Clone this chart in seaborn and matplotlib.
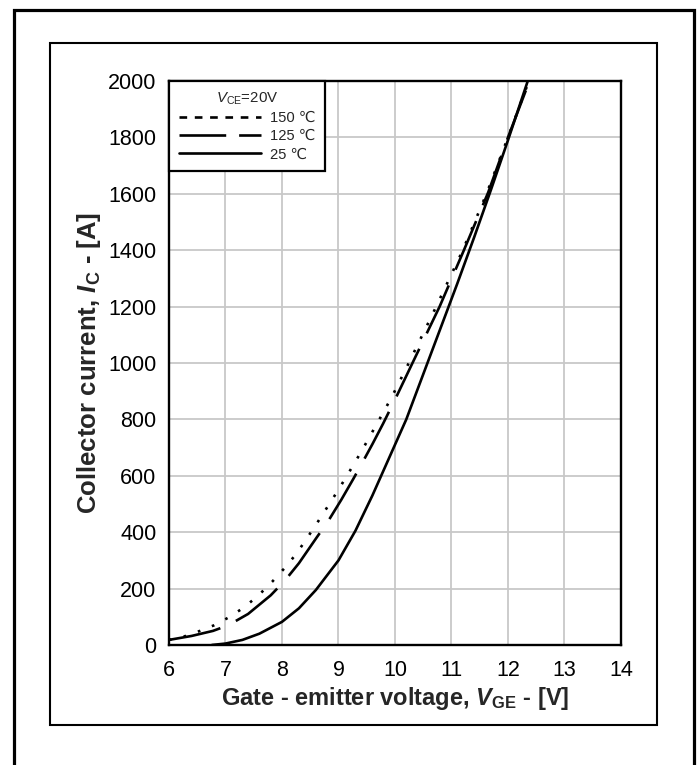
import matplotlib
matplotlib.use("Agg")
import matplotlib.pyplot as plt
from matplotlib.lines import Line2D
from matplotlib.patches import Rectangle
import seaborn as sns
import pandas as pd

# ---- data ----
v_150 = [6.0, 6.3, 6.55, 6.8, 7.06, 7.32, 7.58, 7.83, 8.07, 8.26, 8.43, 8.62, 8.79, 8.95,
         9.11, 9.26, 9.41, 9.55, 9.69, 9.83, 9.95, 10.22, 10.73, 11.2, 11.62, 12.0, 12.37]
i_150 = [18, 32, 50, 70, 98, 132, 175, 225, 278, 325, 375, 432, 485, 535,
         587, 637, 688, 738, 788, 838, 882, 990, 1200, 1400, 1600, 1800, 2000]

v_125 = [6.0, 6.4, 6.78, 7.05, 7.4, 7.8, 8.05, 8.3, 8.61, 8.82, 9.05, 9.26, 9.41, 9.6,
         9.79, 10.0, 10.31, 10.79, 11.22, 11.65, 12.0, 12.38]
i_125 = [18, 32, 50, 70, 110, 176, 228, 290, 380, 440, 515, 588, 642, 712,
         785, 870, 1000, 1200, 1400, 1605, 1800, 2000]

v_25 = [6.76, 7.0, 7.3, 7.6, 8.0, 8.3, 8.6, 9.0, 9.3, 9.6, 9.9, 10.2, 10.5,
        10.8, 11.1, 11.4, 11.7, 12.0, 12.35]
i_25 = [0, 5, 18, 40, 82, 130, 195, 300, 405, 530, 665, 800, 960,
        1120, 1280, 1445, 1615, 1790, 2000]

labels = ["150 \u2103", "125 \u2103", "25 \u2103"]
x_ticks = [6, 7, 8, 9, 10, 11, 12, 13, 14]
y_ticks = [0, 200, 400, 600, 800, 1000, 1200, 1400, 1600, 1800, 2000]

df = pd.concat([
    pd.DataFrame({"V": v_150, "I": i_150, "T": labels[0]}),
    pd.DataFrame({"V": v_125, "I": i_125, "T": labels[1]}),
    pd.DataFrame({"V": v_25, "I": i_25, "T": labels[2]}),
], ignore_index=True)

# ---- style ----
sns.set_style("white")
plt.rcParams["font.family"] = ["Liberation Sans", "DejaVu Sans"]
plt.rcParams["mathtext.fontset"] = "custom"
plt.rcParams["mathtext.rm"] = "Liberation Sans"
plt.rcParams["mathtext.it"] = "Liberation Sans:italic"
plt.rcParams["mathtext.bf"] = "Liberation Sans:bold"
try:
    plt.rcParams["mathtext.bfit"] = "Liberation Sans:bold:italic"
except KeyError:
    pass

fig = plt.figure(figsize=(7.0, 7.65), dpi=100)
ax = fig.add_axes([0.2414, 0.1569, 0.6457, 0.7372])

lw = 1.9
curve_dashes = {labels[0]: (1.0, 4.7), labels[1]: (20, 6.5), labels[2]: ""}
sns.lineplot(data=df, x="V", y="I", style="T", dashes=curve_dashes, color="black",
             linewidth=lw, sort=False, estimator=None, legend=False, ax=ax)

ax.set_xlim(6, 14)
ax.set_ylim(0, 2000)
ax.set_xticks(x_ticks)
ax.set_yticks(y_ticks)
ax.set_xticklabels([str(t) for t in x_ticks])
ax.set_yticklabels([str(t) for t in y_ticks])
ax.tick_params(axis="both", length=0, labelsize=15.5, colors="black")
ax.tick_params(axis="x", pad=11)
ax.tick_params(axis="y", pad=9)
ax.grid(True, color="#c8c8c8", linewidth=1.3)
ax.set_axisbelow(True)
for s in ax.spines.values():
    s.set_visible(True)
    s.set_color("black")
    s.set_linewidth(1.7)

ax.set_xlabel(r"Gate - emitter voltage, $\mathbfit{V}_{\mathbf{GE}}$ - [V]",
              fontsize=17, fontweight="bold", labelpad=3)
ax.set_ylabel(r"Collector current, $\mathbfit{I}_{\mathbf{C}}$ - [A]",
              fontsize=18.5, fontweight="bold", labelpad=4)

handles = [
    Line2D([], [], color="black", linewidth=lw, dashes=(2.9, 2.9)),
    Line2D([], [], color="black", linewidth=lw, dashes=(17.7, 4.9)),
    Line2D([], [], color="black", linewidth=lw),
]
leg = ax.legend(handles, labels, title=r"$\mathit{V}_{\mathrm{CE}}$=20V",
                loc="upper left", bbox_to_anchor=(0, 1), borderaxespad=0,
                frameon=True, fancybox=False, framealpha=1, edgecolor="black",
                fontsize=10.6, title_fontsize=10.8, handlelength=5.6,
                handletextpad=0.6, labelspacing=0.28, borderpad=0.65)
leg.get_frame().set_linewidth(1.6)

# frames around the figure
fig.patches.append(Rectangle((50 / 700, 1 - 725 / 765), 607 / 700, 682 / 765,
                             transform=fig.transFigure, fill=False,
                             edgecolor="black", linewidth=1.5))
fig.patches.append(Rectangle((13.5 / 700, -0.2), 680 / 700, 1.2 - 9.5 / 765,
                             transform=fig.transFigure, fill=False,
                             edgecolor="black", linewidth=2.3))

fig.savefig("out.png", dpi=100)
